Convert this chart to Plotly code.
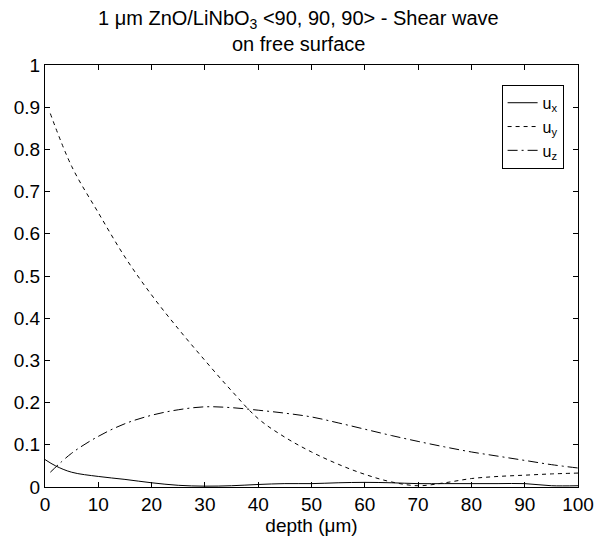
import plotly.graph_objects as go

depth_x = [0, 2, 5, 10, 15, 20, 25, 30, 35, 40, 45, 50, 55, 60, 65, 70, 75, 80, 85, 90, 95, 100]
ux = [0.065, 0.05, 0.035, 0.025, 0.018, 0.01, 0.004, 0.002, 0.003, 0.006, 0.008, 0.008, 0.01, 0.011, 0.01, 0.008, 0.008, 0.008, 0.008, 0.008, 0.003, 0.003]

depth = [1, 5, 10, 15, 20, 25, 30, 35, 40, 45, 50, 55, 60, 65, 70, 75, 80, 85, 90, 95, 100]
uy = [0.885, 0.76, 0.65, 0.545, 0.455, 0.375, 0.30, 0.228, 0.162, 0.118, 0.083, 0.054, 0.03, 0.012, 0.003, 0.01, 0.02, 0.025, 0.028, 0.031, 0.033]
uz = [0.035, 0.08, 0.12, 0.15, 0.17, 0.183, 0.19, 0.188, 0.182, 0.175, 0.166, 0.152, 0.137, 0.122, 0.108, 0.095, 0.083, 0.073, 0.063, 0.053, 0.045]

x_ticks = list(range(0, 101, 10))
y_ticks = [i / 10 for i in range(11)]
y_tick_labels = ["0", "0.1", "0.2", "0.3", "0.4", "0.5", "0.6", "0.7", "0.8", "0.9", "1"]

title_lines = ["1 μm ZnO/LiNbO<sub>3</sub> &lt;90, 90, 90&gt; - Shear wave", "on free surface"]

FONT = "Liberation Sans, Arial, sans-serif"

fig = go.Figure()
fig.add_trace(go.Scatter(x=depth_x, y=ux, mode="lines", name="u<sub>x</sub>",
                         line=dict(color="black", width=1, dash="solid", shape="spline")))
fig.add_trace(go.Scatter(x=depth, y=uy, mode="lines", name="u<sub>y</sub>",
                         line=dict(color="black", width=1, dash="4px,4px", shape="spline")))
fig.add_trace(go.Scatter(x=depth, y=uz, mode="lines", name="u<sub>z</sub>",
                         line=dict(color="black", width=1, dash="10px,4px,2px,4px", shape="spline")))

axis_common = dict(showline=True, linecolor="black", linewidth=1, mirror="allticks",
                   ticks="inside", ticklen=5, tickcolor="black", showgrid=False, zeroline=False,
                   tickfont=dict(family=FONT, size=19, color="black"))

# title lines as annotations (centre y in px from top; plot top at 65, height 422)
for line, ypx in zip(title_lines, [20, 44]):
    fig.add_annotation(text=line, xref="paper", yref="paper",
                       x=0.475, y=1 + (65 - ypx) / 422, xanchor="center", yanchor="middle",
                       showarrow=False, font=dict(family=FONT, size=20, color="black"))

fig.update_layout(
    width=606, height=542,
    margin=dict(l=45, r=26, t=65, b=55),
    paper_bgcolor="white", plot_bgcolor="white",
    xaxis=dict(range=[0, 100], tickvals=x_ticks,
               title=dict(text="depth (μm)", font=dict(family=FONT, size=19, color="black"), standoff=2),
               **axis_common),
    yaxis=dict(range=[0, 1], tickvals=y_ticks, ticktext=y_tick_labels, **axis_common),
    legend=dict(x=0.973, xanchor="right", y=0.953, yanchor="top",
                bordercolor="black", borderwidth=1, bgcolor="white",
                font=dict(family=FONT, size=16, color="black"), tracegroupgap=0,
                itemwidth=30),
    showlegend=True,
)

fig.write_html("out.html")
